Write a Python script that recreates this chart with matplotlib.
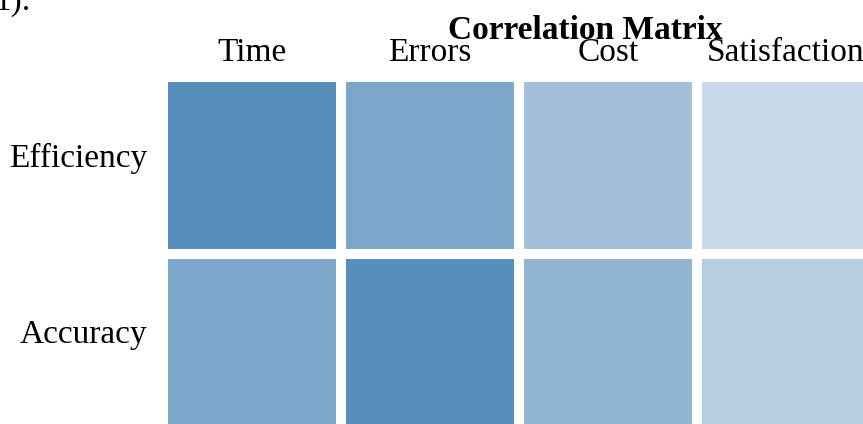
import numpy as np
import matplotlib
matplotlib.use("Agg")
import matplotlib.pyplot as plt
from matplotlib.colors import LinearSegmentedColormap
from matplotlib.transforms import ScaledTranslation

plt.rcParams["font.family"] = ["Liberation Serif", "DejaVu Serif"]

# ── Data ─────────────────────────────────────────────────────────────────────
metrics = ["Time", "Errors", "Cost", "Satisfaction"]
outcomes = ["Efficiency", "Accuracy"]
efficiency_corr = [0.9, 0.7, 0.5, 0.3]
accuracy_corr = [0.7, 0.9, 0.6, 0.4]

corr = np.array([efficiency_corr, accuracy_corr])

# ── Figure ───────────────────────────────────────────────────────────────────
W, H = 863, 424
fig = plt.figure(figsize=(W / 100, H / 100), dpi=100)

# axes run past the right/bottom edge, like the cropped reference
left, top = 163, 77
cell_w, cell_h = 178, 177
ax = fig.add_axes([left / W, 1 - (top + 2 * cell_h) / H,
                   4 * cell_w / W, 2 * cell_h / H])

cmap = LinearSegmentedColormap.from_list("blues", ["#ffffff", "#4682b4"])
ax.pcolormesh(corr, cmap=cmap, vmin=0, vmax=1,
              edgecolors="white", linewidth=7)
ax.set_xlim(0, len(metrics))
ax.set_ylim(len(outcomes), 0)

ax.xaxis.tick_top()
ax.set_xticks(np.arange(len(metrics)) + 0.5)
ax.set_xticklabels(metrics, fontsize=24)
ax.set_yticks(np.arange(len(outcomes)) + 0.5)
ax.set_yticklabels(outcomes, fontsize=24)
ax.tick_params(axis="x", length=0, pad=6.5)
ax.tick_params(axis="y", length=0, pad=11)
# row labels sit a little above the cell centres in the reference
shift = ScaledTranslation(0, 0.11, fig.dpi_scale_trans)
for lab in ax.get_yticklabels():
    lab.set_transform(lab.get_transform() + shift)
for s in ax.spines.values():
    s.set_visible(False)

fig.text(585 / W, 1 - 39 / H, "Correlation Matrix", ha="center",
         va="baseline", fontsize=24, fontweight="bold")

# fragment of caption text cut off at the top-left of the crop
fig.text(-6 / W, 1 - 10 / H, "1).", ha="left", va="baseline", fontsize=24)

fig.savefig("out.png", dpi=100)
